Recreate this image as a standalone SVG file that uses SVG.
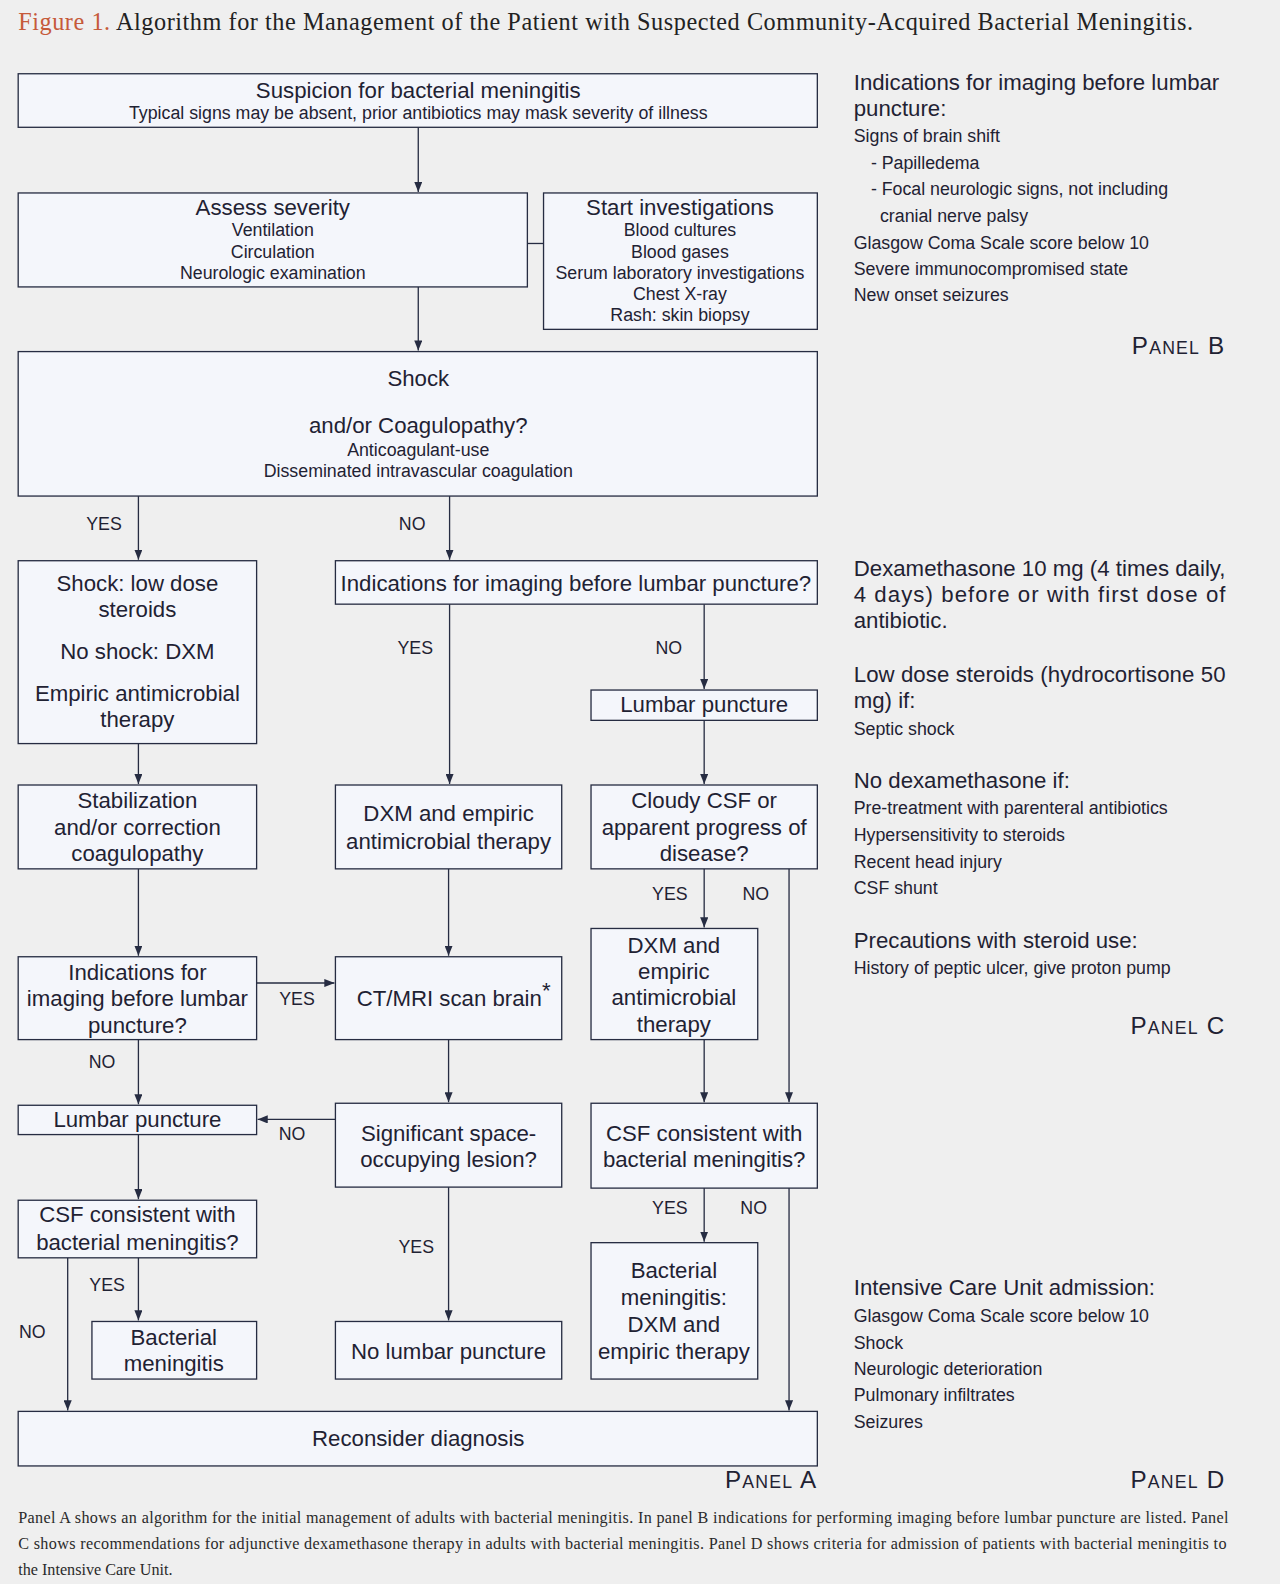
<svg xmlns="http://www.w3.org/2000/svg" width="1280" height="1584" viewBox="0 0 1280 1584">
<defs>
<marker id="ah" viewBox="0 0 10 8" refX="10" refY="4" markerWidth="10" markerHeight="8" markerUnits="userSpaceOnUse" orient="auto">
<path d="M0,0 L10,4 L0,8 z" fill="#262c42"/>
</marker>
<style>
.bx{fill:#f4f6fb;stroke:#262c42;stroke-width:1.3}
.t{font-family:"Liberation Sans",Arial,sans-serif;fill:#1f2233;text-anchor:middle}
.l{font-size:22px}
.s{font-size:17.6px}
.c{stroke:#262c42;stroke-width:1.3;fill:none}
.ca{stroke:#262c42;stroke-width:1.3;fill:none;marker-end:url(#ah)}
.lab{font-family:"Liberation Sans",Arial,sans-serif;font-size:17.6px;fill:#1f2233;text-anchor:middle}
.ph{font-family:"Liberation Sans",Arial,sans-serif;font-size:22px;fill:#1f2233}
.pi{font-family:"Liberation Sans",Arial,sans-serif;font-size:17.6px;fill:#1f2233}
.pn{font-family:"Liberation Sans",Arial,sans-serif;font-size:24px;fill:#1f2233;text-anchor:end;letter-spacing:1.2px}
.pn tspan.sm{font-size:17.5px}
.cap{font-family:"Liberation Serif","Times New Roman",serif;font-size:16px;fill:#2a2a2a}
</style>
</defs>
<rect width="1280" height="1584" fill="#efefef"/>
<g transform="scale(1.0103)">
<text x="18" y="30" font-family="'Liberation Serif','Times New Roman',serif" font-size="24" fill="#222" textLength="1163" lengthAdjust="spacing"><tspan fill="#c65a3a">Figure 1.</tspan> Algorithm for the Management of the Patient with Suspected Community-Acquired Bacterial Meningitis.</text>

<g id="connectors">
<line class="ca" x1="414" y1="126" x2="414" y2="190"/>
<line class="c" x1="522" y1="241" x2="538" y2="241"/>
<line class="ca" x1="414" y1="284" x2="414" y2="347"/>
<line class="ca" x1="137" y1="491" x2="137" y2="554"/>
<line class="ca" x1="445" y1="491" x2="445" y2="554"/>
<line class="ca" x1="445" y1="598" x2="445" y2="776"/>
<line class="ca" x1="697" y1="598" x2="697" y2="682"/>
<line class="ca" x1="697" y1="713" x2="697" y2="776"/>
<line class="ca" x1="137" y1="736" x2="137" y2="776"/>
<line class="ca" x1="137" y1="860" x2="137" y2="946"/>
<line class="ca" x1="444" y1="860" x2="444" y2="946"/>
<line class="ca" x1="697" y1="860" x2="697" y2="918"/>
<line class="ca" x1="781" y1="860" x2="781" y2="1091"/>
<line class="ca" x1="254" y1="973" x2="331" y2="973"/>
<line class="ca" x1="137" y1="1029" x2="137" y2="1093"/>
<line class="ca" x1="444" y1="1029" x2="444" y2="1091"/>
<line class="ca" x1="697" y1="1029" x2="697" y2="1091"/>
<line class="ca" x1="332" y1="1108" x2="255" y2="1108"/>
<line class="ca" x1="137" y1="1123" x2="137" y2="1187"/>
<line class="ca" x1="137" y1="1245" x2="137" y2="1307"/>
<line class="ca" x1="67" y1="1245" x2="67" y2="1396"/>
<line class="ca" x1="444" y1="1175" x2="444" y2="1307"/>
<line class="ca" x1="697" y1="1176" x2="697" y2="1229"/>
<line class="ca" x1="781" y1="1176" x2="781" y2="1396"/>
<text class="lab" x="103" y="525">YES</text>
<text class="lab" x="408" y="525">NO</text>
<text class="lab" x="411" y="647">YES</text>
<text class="lab" x="662" y="647">NO</text>
<text class="lab" x="663" y="891">YES</text>
<text class="lab" x="748" y="891">NO</text>
<text class="lab" x="294" y="995">YES</text>
<text class="lab" x="101" y="1057">NO</text>
<text class="lab" x="289" y="1128">NO</text>
<text class="lab" x="663" y="1202">YES</text>
<text class="lab" x="746" y="1202">NO</text>
<text class="lab" x="412" y="1240">YES</text>
<text class="lab" x="106" y="1278">YES</text>
<text class="lab" x="32" y="1324">NO</text>
</g>

<g id="n-suspicion">
<rect class="bx" x="18" y="73" width="791" height="53"/>
<text class="t l" x="414" y="97">Suspicion for bacterial meningitis</text>
<text class="t s" x="414" y="118">Typical signs may be absent, prior antibiotics may mask severity of illness</text>
</g>
<g id="n-assess">
<rect class="bx" x="18" y="191" width="504" height="93"/>
<text class="t l" x="270" y="213">Assess severity</text>
<text class="t s" x="270" y="234">Ventilation</text>
<text class="t s" x="270" y="255">Circulation</text>
<text class="t s" x="270" y="276">Neurologic examination</text>
</g>
<g id="n-investigations">
<rect class="bx" x="538" y="191" width="271" height="135"/>
<text class="t l" x="673" y="213">Start investigations</text>
<text class="t s" x="673" y="234">Blood cultures</text>
<text class="t s" x="673" y="255">Blood gases</text>
<text class="t s" x="673" y="276">Serum laboratory investigations</text>
<text class="t s" x="673" y="297">Chest X-ray</text>
<text class="t s" x="673" y="318">Rash: skin biopsy</text>
</g>
<g id="n-shock">
<rect class="bx" x="18" y="348" width="791" height="143"/>
<text class="t l" x="414" y="382">Shock</text>
<text class="t l" x="414" y="429">and/or Coagulopathy?</text>
<text class="t s" x="414" y="451">Anticoagulant-use</text>
<text class="t s" x="414" y="472">Disseminated intravascular coagulation</text>
</g>
<g id="n-steroids">
<rect class="bx" x="18" y="555" width="236" height="181"/>
<text class="t l" x="136" y="585">Shock: low dose</text>
<text class="t l" x="136" y="611">steroids</text>
<text class="t l" x="136" y="652">No shock: DXM</text>
<text class="t l" x="136" y="694">Empiric antimicrobial</text>
<text class="t l" x="136" y="720">therapy</text>
</g>
<g id="n-indications1">
<rect class="bx" x="332" y="555" width="477" height="43"/>
<text class="t l" x="570" y="585">Indications for imaging before lumbar puncture?</text>
</g>
<g id="n-lp1">
<rect class="bx" x="585" y="683" width="224" height="30"/>
<text class="t l" x="697" y="705">Lumbar puncture</text>
</g>
<g id="n-stabilization">
<rect class="bx" x="18" y="777" width="236" height="83"/>
<text class="t l" x="136" y="800">Stabilization</text>
<text class="t l" x="136" y="826">and/or correction</text>
<text class="t l" x="136" y="852">coagulopathy</text>
</g>
<g id="n-dxm1">
<rect class="bx" x="332" y="777" width="224" height="83"/>
<text class="t l" x="444" y="813">DXM and empiric</text>
<text class="t l" x="444" y="840">antimicrobial therapy</text>
</g>
<g id="n-cloudy">
<rect class="bx" x="585" y="777" width="224" height="83"/>
<text class="t l" x="697" y="800">Cloudy CSF or</text>
<text class="t l" x="697" y="826">apparent progress of</text>
<text class="t l" x="697" y="852">disease?</text>
</g>
<g id="n-indications2">
<rect class="bx" x="18" y="947" width="236" height="82"/>
<text class="t l" x="136" y="970">Indications for</text>
<text class="t l" x="136" y="996">imaging before lumbar</text>
<text class="t l" x="136" y="1022">puncture?</text>
</g>
<g id="n-ct">
<rect class="bx" x="332" y="947" width="224" height="82"/>
<text class="t l" x="449" y="996">CT/MRI scan brain<tspan dy="-8">*</tspan></text>
</g>
<g id="n-dxm2">
<rect class="bx" x="585" y="919" width="165" height="110"/>
<text class="t l" x="667" y="943">DXM and</text>
<text class="t l" x="667" y="969">empiric</text>
<text class="t l" x="667" y="995">antimicrobial</text>
<text class="t l" x="667" y="1021">therapy</text>
</g>
<g id="n-lp2">
<rect class="bx" x="18" y="1094" width="236" height="29"/>
<text class="t l" x="136" y="1116">Lumbar puncture</text>
</g>
<g id="n-lesion">
<rect class="bx" x="332" y="1092" width="224" height="83"/>
<text class="t l" x="444" y="1129">Significant space-</text>
<text class="t l" x="444" y="1155">occupying lesion?</text>
</g>
<g id="n-csf-right">
<rect class="bx" x="585" y="1092" width="224" height="84"/>
<text class="t l" x="697" y="1129">CSF consistent with</text>
<text class="t l" x="697" y="1155">bacterial meningitis?</text>
</g>
<g id="n-csf-left">
<rect class="bx" x="18" y="1188" width="236" height="57"/>
<text class="t l" x="136" y="1210">CSF consistent with</text>
<text class="t l" x="136" y="1237">bacterial meningitis?</text>
</g>
<g id="n-bm">
<rect class="bx" x="91" y="1308" width="163" height="57"/>
<text class="t l" x="172" y="1331">Bacterial</text>
<text class="t l" x="172" y="1357">meningitis</text>
</g>
<g id="n-nolp">
<rect class="bx" x="332" y="1308" width="224" height="57"/>
<text class="t l" x="444" y="1345">No lumbar puncture</text>
</g>
<g id="n-bm-dxm">
<rect class="bx" x="585" y="1230" width="165" height="135"/>
<text class="t l" x="667" y="1265">Bacterial</text>
<text class="t l" x="667" y="1292">meningitis:</text>
<text class="t l" x="667" y="1318">DXM and</text>
<text class="t l" x="667" y="1345">empiric therapy</text>
</g>
<g id="n-reconsider">
<rect class="bx" x="18" y="1397" width="791" height="54"/>
<text class="t l" x="414" y="1431">Reconsider diagnosis</text>
</g>

<text class="pn" x="809" y="1473">P<tspan class="sm">ANEL</tspan> A</text>

<g id="panel-b">
<text class="ph" x="845" y="89">Indications for imaging before lumbar</text>
<text class="ph" x="845" y="115">puncture:</text>
<text class="pi" x="845" y="141">Signs of brain shift</text>
<text class="pi" x="862" y="167">- Papilledema</text>
<text class="pi" x="862" y="193">- Focal neurologic signs, not including</text>
<text class="pi" x="871" y="220">cranial nerve palsy</text>
<text class="pi" x="845" y="246">Glasgow Coma Scale score below 10</text>
<text class="pi" x="845" y="272">Severe immunocompromised state</text>
<text class="pi" x="845" y="298">New onset seizures</text>
<text class="pn" x="1213" y="350">P<tspan class="sm">ANEL</tspan> B</text>
</g>

<g id="panel-c">
<text class="ph" x="845" y="570" textLength="368" lengthAdjust="spacing">Dexamethasone 10 mg (4 times daily,</text>
<text class="ph" x="845" y="596" textLength="368" lengthAdjust="spacing">4 days) before or with first dose of</text>
<text class="ph" x="845" y="622">antibiotic.</text>
<text class="ph" x="845" y="675" textLength="368" lengthAdjust="spacing">Low dose steroids (hydrocortisone 50</text>
<text class="ph" x="845" y="701">mg) if:</text>
<text class="pi" x="845" y="728">Septic shock</text>
<text class="ph" x="845" y="780">No dexamethasone if:</text>
<text class="pi" x="845" y="806">Pre-treatment with parenteral antibiotics</text>
<text class="pi" x="845" y="832">Hypersensitivity to steroids</text>
<text class="pi" x="845" y="859">Recent head injury</text>
<text class="pi" x="845" y="885">CSF shunt</text>
<text class="ph" x="845" y="938">Precautions with steroid use:</text>
<text class="pi" x="845" y="964">History of peptic ulcer, give proton pump</text>
<text class="pn" x="1213" y="1023">P<tspan class="sm">ANEL</tspan> C</text>
</g>

<g id="panel-d">
<text class="ph" x="845" y="1282">Intensive Care Unit admission:</text>
<text class="pi" x="845" y="1309">Glasgow Coma Scale score below 10</text>
<text class="pi" x="845" y="1335">Shock</text>
<text class="pi" x="845" y="1361">Neurologic deterioration</text>
<text class="pi" x="845" y="1387">Pulmonary infiltrates</text>
<text class="pi" x="845" y="1413">Seizures</text>
<text class="pn" x="1213" y="1473">P<tspan class="sm">ANEL</tspan> D</text>
</g>

<g id="caption">
<text class="cap" x="18" y="1507" textLength="1198" lengthAdjust="spacing">Panel A shows an algorithm for the initial management of adults with bacterial meningitis. In panel B indications for performing imaging before lumbar puncture are listed. Panel</text>
<text class="cap" x="18" y="1533" textLength="1196" lengthAdjust="spacing">C shows recommendations for adjunctive dexamethasone therapy in adults with bacterial meningitis. Panel D shows criteria for admission of patients with bacterial meningitis to</text>
<text class="cap" x="18" y="1559">the Intensive Care Unit.</text>
</g>
</g>
</svg>
